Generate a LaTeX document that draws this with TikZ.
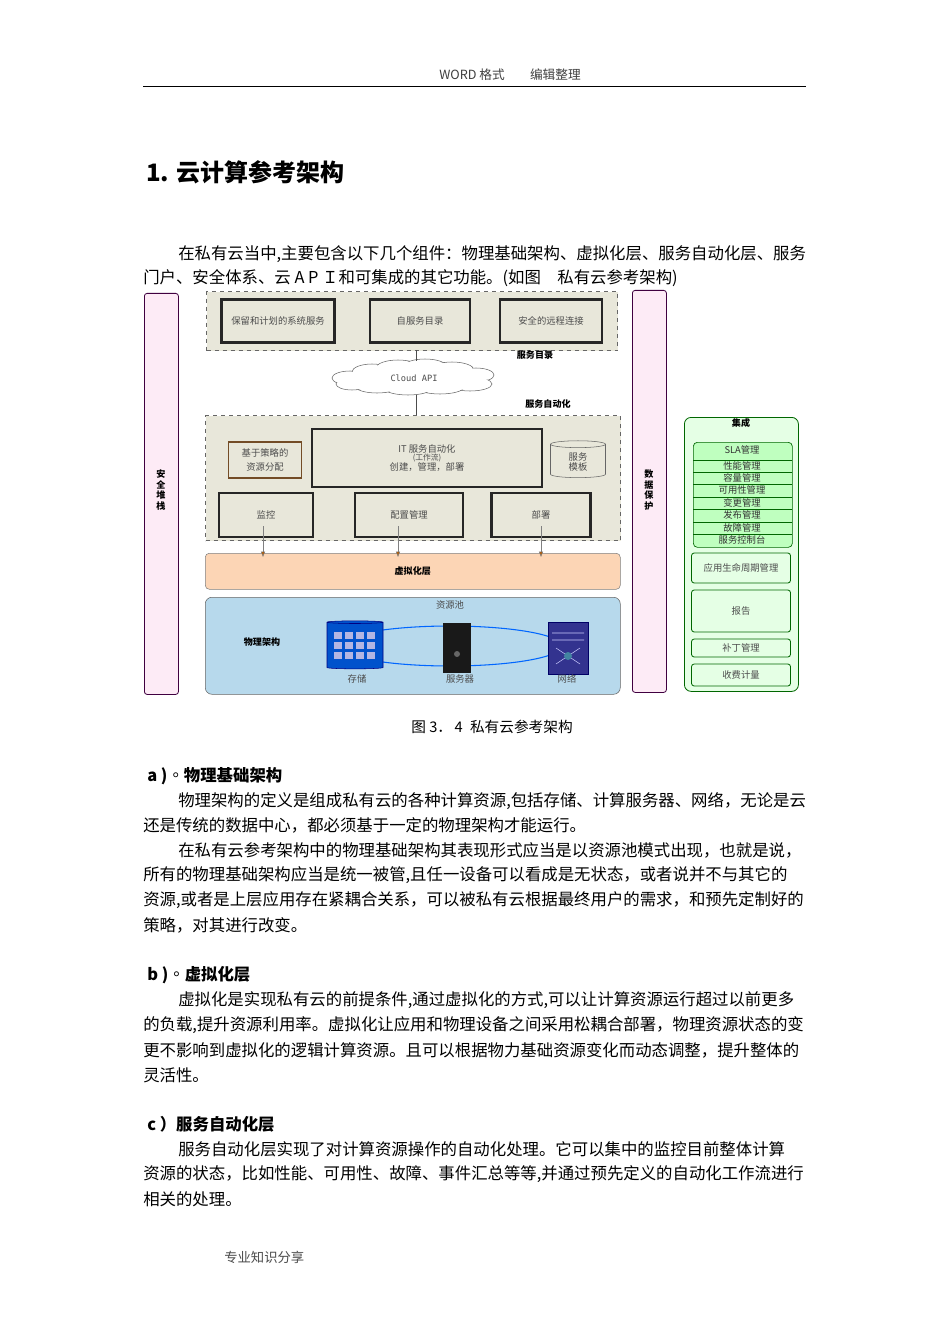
\documentclass[tikz,border=0pt]{standalone}
\usepackage{fontspec}
\setmainfont{Noto Sans CJK SC}
\setmonofont{DejaVu Sans Mono}
\usetikzlibrary{shapes.symbols,shapes.geometric,arrows.meta}
\definecolor{beige}{RGB}{232,231,218}
\definecolor{physblue}{RGB}{183,217,236}
\definecolor{virtor}{RGB}{252,213,181}
\begin{document}
\begin{tikzpicture}[x=0.75pt,y=-0.75pt,
  body/.style={anchor=west,inner sep=0,font=\fontsize{12.3}{14}\selectfont},
  head/.style={anchor=west,inner sep=0,font=\fontsize{12.3}{14}\selectfont\bfseries},
  dtext/.style={font=\fontsize{7}{8}\selectfont,text=black!70},
  dbold/.style={font=\fontsize{6.8}{8}\selectfont\bfseries},
  thickbox/.style={draw=black!85,line width=2pt,fill=beige},
  dashbox/.style={draw=black!60,dashed,line width=0.8pt,fill=beige},
  pinkbar/.style={draw=violet!50!black,fill=magenta!8,rounded corners=2pt,line width=0.6pt},
  greenrow/.style={draw=black!60!green,fill=green!25,line width=0.5pt},
  greenbox/.style={draw=black!60!green,fill=green!10,rounded corners=2pt,line width=0.6pt},
  downarr/.style={draw=black!50,-{Triangle[length=4pt,width=3pt,fill=orange!70!black]}}]
\useasboundingbox (0,0) rectangle (950,1344);
\fill[white] (0,0) rectangle (950,1344);
% header
\node[font=\fontsize{9.5}{11}\selectfont,text=black!75] (hdr) at (510,75) {WORD 格式\hspace{2em}编辑整理};
\coordinate (hl) at (143,86); \coordinate (hr) at (806,86);
\draw[line width=0.6pt] (hl) -- (hr);
\node[anchor=west,inner sep=0,font=\fontsize{18}{20}\selectfont\bfseries] (title) at (146,172) {1. 云计算参考架构};
\node[body] (p1) at (178,254) {在私有云当中,主要包含以下几个组件：物理基础架构、虚拟化层、服务自动化层、服务};
\node[body] (p2) at (143,278) {门户、安全体系、云 A P Ｉ和可集成的其它功能。(如图\hspace{1em}私有云参考架构)};

% ---------- diagram ----------
\node[pinkbar,minimum width=34*0.75pt,minimum height=401*0.75pt,anchor=north west] (sec) at (144,293) {};
\node[dbold,align=center] (secT) at (161,490) {安\\全\\堆\\栈};
\node[pinkbar,minimum width=34*0.75pt,minimum height=402*0.75pt,anchor=north west] (dp) at (632,290) {};
\node[dbold,align=center] (dpT) at (649,490) {数\\据\\保\\护};

% service catalog
\node[dashbox,minimum width=411*0.75pt,minimum height=59*0.75pt,anchor=north west] (cat) at (206,291) {};
\node[thickbox,dtext,minimum width=113*0.75pt,minimum height=43*0.75pt] (c1) at (278,321) {保留和计划的系统服务};
\node[thickbox,dtext,minimum width=100*0.75pt,minimum height=43*0.75pt] (c2) at (420,321) {自服务目录};
\node[thickbox,dtext,minimum width=102*0.75pt,minimum height=43*0.75pt] (c3) at (551,321) {安全的远程连接};
\node[dbold] (catL) at (535,355) {服务目录};
% cloud
\foreach \cx/\cy/\rx/\ry in {350/378/18/7,372/372/20/8,398/368/22/8,425/367/22/8,452/370/22/8,476/375/18/7,470/384/22/7,440/387/24/7,408/388/24/7,377/386/22/7,352/384/16/6}
  \draw[black!60,fill=white] (\cx,\cy) ellipse [x radius=\rx, y radius=\ry];
\foreach \cx/\cy/\rx/\ry in {350/378/17/6,372/372/19/7,398/368/21/7,425/367/21/7,452/370/21/7,476/375/17/6,470/384/21/6,440/387/23/6,408/388/23/6,377/386/21/6,352/384/15/5}
  \fill[white] (\cx,\cy) ellipse [x radius=\rx, y radius=\ry];
\fill[white] (414,378) ellipse [x radius=70, y radius=11];
\node[inner sep=0,minimum width=150*0.75pt,minimum height=30*0.75pt,font=\ttfamily\fontsize{6.5}{8}\selectfont,text=black!70] (cloud) at (414,378) {Cloud API};
\draw[black!70] (416,350) -- (416,361);
\draw[black!70] (416,395) -- (416,415);
\node[dbold] (autoL) at (548,404) {服务自动化};

% automation
\node[dashbox,minimum width=415*0.75pt,minimum height=125*0.75pt,anchor=north west] (auto) at (205,415) {};
\node[draw=brown!60!black,fill=beige,line width=0.8pt,dtext,align=center,minimum width=73*0.75pt,minimum height=36*0.75pt] (pol) at (265,460) {基于策略的\\[2pt]资源分配};
\node[thickbox,dtext,align=center,minimum width=230*0.75pt,minimum height=58*0.75pt] (it) at (427,458) {IT 服务自动化\\[-2pt]{\fontsize{5.8}{6}\selectfont (工作流)}\\[-1pt]创建，管理，部署};
\node[cylinder,shape border rotate=90,aspect=0.25,draw=black!60,fill=beige,dtext,align=center,minimum width=55*0.75pt,minimum height=34*0.75pt] (tpl) at (578,462) {服务\\模板};
\node[thickbox,dtext,minimum width=94*0.75pt,minimum height=44*0.75pt] (mon) at (266,515) {监控};
\node[thickbox,dtext,minimum width=108*0.75pt,minimum height=44*0.75pt] (cfg) at (409,515) {配置管理};
\node[thickbox,dtext,minimum width=99*0.75pt,minimum height=44*0.75pt] (dep) at (541,515) {部署};

% virtualization
\node[draw=black!50,fill=virtor,rounded corners=3pt,dbold,minimum width=415*0.75pt,minimum height=36*0.75pt,anchor=north west] (virt) at (205,553) {虚拟化层};
\draw[downarr] (263,526) -- (263,557);
\draw[downarr] (398,526) -- (398,557);
\draw[downarr] (541,526) -- (541,557);

% physical
\node[draw=black!60,fill=physblue,rounded corners=5pt,minimum width=415*0.75pt,minimum height=97*0.75pt,anchor=north west] (phys) at (205,597) {};
\node[dtext] (poolL) at (450,605) {资源池};
\node[dbold] (physL) at (262,642) {物理架构};
\draw[blue!60!cyan,line width=0.8pt] (450,646) ellipse [x radius=112, y radius=20];
% storage icon
\node[cylinder,shape border rotate=90,aspect=0.3,draw=blue!50!black,fill=blue!60!cyan!80!black,minimum width=56*0.75pt,minimum height=48*0.75pt] (stor) at (355,646) {};
\foreach \i in {0,1,2,3} \foreach \j in {0,1,2}
  \fill[cyan!25!blue!30] (334+\i*11,632+\j*10) rectangle ++(8,7);
\node[fill=black!90,minimum width=28*0.75pt,minimum height=50*0.75pt,inner sep=0] (srv) at (457,648) {};
\fill[black!60] (457,654) circle (3);
\node[draw=blue!40!black,fill=blue!45!black!80,minimum width=40*0.75pt,minimum height=52*0.75pt,inner sep=0] (net) at (568,648) {};
\draw[white!80!blue] (552,633) -- (584,633) (552,640) -- (584,640) (556,648) -- (580,664) (556,664) -- (580,648);
\fill[cyan!60!black] (568,656) circle (4);
\node[dtext] (s1) at (357,679) {存储};
\node[dtext] (s2) at (460,679) {服务器};
\node[dtext] (s3) at (567,679) {网络};

% integration
\node[greenbox,minimum width=114*0.75pt,minimum height=274*0.75pt,anchor=north west,rounded corners=5pt] (integ) at (684,417) {};
\node[dbold] (integL) at (741,423) {集成};
\node[greenrow,rounded corners=3pt,minimum width=99*0.75pt,minimum height=105*0.75pt,anchor=north west] (grp) at (693,442) {};
\node[dtext,text=black!80] (r0) at (742,450) {SLA管理};
\foreach \y/\t [count=\k] in {466/性能管理,478/容量管理,490/可用性管理,503/变更管理,515/发布管理,528/故障管理,540/服务控制台}{
  \draw[black!60!green,line width=0.5pt] (693,\y-6) -- (792,\y-6);
  \node[dtext,text=black!80] (r\k) at (742,\y) {\t};
}
\node[greenbox,dtext,minimum width=99*0.75pt,minimum height=30*0.75pt] (g1) at (741,568) {应用生命周期管理};
\node[greenbox,dtext,minimum width=99*0.75pt,minimum height=42*0.75pt] (g2) at (741,611) {报告};
\node[greenbox,dtext,minimum width=99*0.75pt,minimum height=18*0.75pt] (g3) at (741,648) {补丁管理};
\node[greenbox,dtext,minimum width=99*0.75pt,minimum height=22*0.75pt] (g4) at (741,675) {收费计量};

% caption
\node[font=\fontsize{11}{13}\selectfont] (cap) at (492,727) {图 3．\,4\enspace 私有云参考架构};

% a
\node[head] (ha) at (147,776) {a )◦物理基础架构};
\node[body] (a1) at (178,801) {物理架构的定义是组成私有云的各种计算资源,包括存储、计算服务器、网络，无论是云};
\node[body] (a2) at (143,825) {还是传统的数据中心，都必须基于一定的物理架构才能运行。};
\node[body] (a3) at (178,850) {在私有云参考架构中的物理基础架构其表现形式应当是以资源池模式出现，也就是说，};
\node[body] (a4) at (143,875) {所有的物理基础架构应当是统一被管,且任一设备可以看成是无状态，或者说并不与其它的};
\node[body] (a5) at (143,900) {资源,或者是上层应用存在紧耦合关系，可以被私有云根据最终用户的需求，和预先定制好的};
\node[body] (a6) at (143,925) {策略，对其进行改变。};
% b
\node[head] (hb) at (147,975) {b )◦虚拟化层};
\node[body] (b1) at (178,1000) {虚拟化是实现私有云的前提条件,通过虚拟化的方式,可以让计算资源运行超过以前更多};
\node[body] (b2) at (143,1025) {的负载,提升资源利用率。虚拟化让应用和物理设备之间采用松耦合部署，物理资源状态的变};
\node[body] (b3) at (143,1050) {更不影响到虚拟化的逻辑计算资源。且可以根据物力基础资源变化而动态调整，提升整体的};
\node[body] (b4) at (143,1075) {灵活性。};
% c
\node[head] (hc) at (147,1124) {c ）服务自动化层};
\node[body] (c1t) at (178,1149) {服务自动化层实现了对计算资源操作的自动化处理。它可以集中的监控目前整体计算};
\node[body] (c2t) at (143,1174) {资源的状态，比如性能、可用性、故障、事件汇总等等,并通过预先定义的自动化工作流进行};
\node[body] (c3t) at (143,1199) {相关的处理。};
\node[anchor=west,inner sep=0,font=\fontsize{10}{12}\selectfont,text=black!70] (foot) at (224,1257) {专业知识分享};
\end{tikzpicture}
\end{document}
